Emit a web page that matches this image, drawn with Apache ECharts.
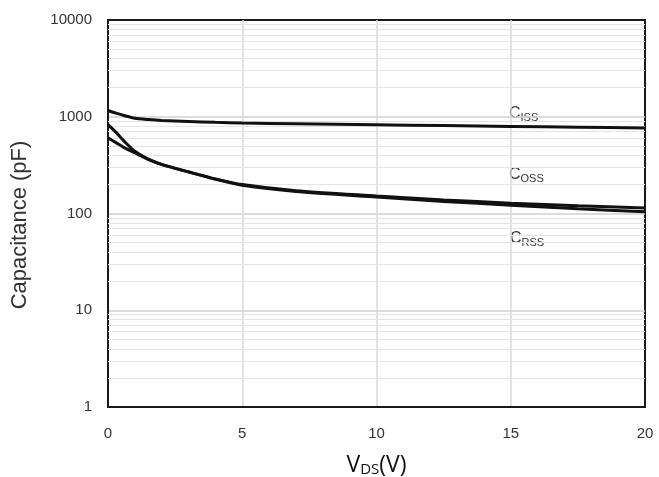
<!DOCTYPE html>
<html>
<head>
<meta charset="utf-8">
<style>
  html, body { margin: 0; padding: 0; background: #fff; }
  #chart { width: 659px; height: 477px; }
</style>
<script src="https://cdn.jsdelivr.net/npm/echarts@6/dist/echarts.min.js"></script>
</head>
<body>
<div id="chart"></div>
<script>
// V_DS sample points (V)
var vds = [0, 0.3, 0.6, 1, 1.5, 2, 3, 4, 5, 7, 10, 12.5, 15, 17.5, 20]
// capacitance curves (pF)
var ciss = [1160, 1090, 1030, 965, 935, 915, 895, 875, 860, 845, 825, 810, 795, 780, 765]
var coss = [830, 690, 560, 440, 365, 322, 270, 228, 199, 172, 152, 138, 128, 120, 114]
var crss = [605, 540, 480, 425, 362, 320, 268, 226, 196, 169, 148, 133, 122, 112, 104]
var xTicks = [0, 5, 10, 15, 20]
var yTicks = [1, 10, 100, 1000, 10000]
// light minor grid lines 2..9 of every decade
var minorGrid = [2, 3, 4, 5, 6, 7, 8, 9, 20, 30, 40, 50, 60, 70, 80, 90,
  200, 300, 400, 500, 600, 700, 800, 900, 2000, 3000, 4000, 5000, 6000, 7000, 8000, 9000]

function pairs(ys) {
  return vds.map(function(v, i) { return [v, ys[i]] })
}

function curve(name, ys, extra) {
  var s = {
    name: name,
    type: 'line',
    smooth: 0.25,
    symbol: 'none',
    silent: true,
    data: pairs(ys),
    lineStyle: { color: '#111', width: 3 },
    z: 5
  }
  return Object.assign(s, extra || {})
}

function subLabel(main, sub, x, y) {
  return {
    type: 'text', left: x, top: y,
    style: {
      text: '{c|' + main + '}{s|' + sub + '}',
      rich: {
        c: { fontFamily: 'Liberation Sans', fontSize: 16, fill: '#333' },
        s: { fontFamily: 'Liberation Sans', fontSize: 11, fill: '#333', padding: [7, 0, 0, 0] }
      }
    }
  }
}

var chart = echarts.init(document.getElementById('chart'))

chart.setOption({
  animation: false,
  backgroundColor: '#fff',
  grid: {
    left: 108,
    right: 14,
    top: 20,
    bottom: 70,
    outerBoundsMode: 'none',
    show: true,
    borderColor: '#1a1a1a',
    borderWidth: 2
  },
  xAxis: {
    type: 'value',
    min: xTicks[0],
    max: xTicks[xTicks.length - 1],
    interval: 5,
    name: '{v|V}{s|DS}{v|(V)}',
    nameLocation: 'middle',
    nameGap: 47,
    nameTextStyle: {
      rich: {
        v: { fontFamily: 'Open Sans', fontSize: 23, color: '#111' },
        s: { fontFamily: 'Open Sans', fontSize: 15, color: '#111', padding: [8, 0, 0, 0] }
      }
    },
    axisLine: { show: true, lineStyle: { color: '#1a1a1a', width: 2 } },
    axisTick: { show: false },
    axisLabel: { fontFamily: 'Liberation Sans', fontSize: 15, color: '#333', margin: 19 },
    splitLine: { show: true, showMinLine: false, showMaxLine: false, lineStyle: { color: '#d9d9d9', width: 1.5 } }
  },
  yAxis: {
    type: 'log',
    logBase: 10,
    min: yTicks[0],
    max: yTicks[yTicks.length - 1],
    axisLine: { show: true, lineStyle: { color: '#1a1a1a', width: 2 } },
    axisTick: { show: false },
    axisLabel: {
      fontFamily: 'Liberation Sans', fontSize: 15, color: '#333', margin: 16,
      formatter: function(v) { return String(v) }
    },
    splitLine: { show: true, showMinLine: false, showMaxLine: false, lineStyle: { color: '#d0d0d0', width: 1.5 } }
  },
  series: [
    curve('Ciss', ciss, {
      markLine: {
        silent: true,
        symbol: 'none',
        label: { show: false },
        lineStyle: { color: '#e4e4e4', width: 1, type: 'solid' },
        data: minorGrid.map(function(v) { return { yAxis: v } }),
        z: 1
      }
    }),
    curve('Coss', coss),
    curve('Crss', crss)
  ],
  graphic: [
    {
      type: 'text', x: 20, y: 225, rotation: Math.PI / 2,
      style: {
        text: 'Capacitance (pF)', fontFamily: 'Liberation Sans', fontSize: 22, fill: '#333',
        align: 'center', verticalAlign: 'middle'
      }
    },
    subLabel('C', 'ISS', 509, 106),
    subLabel('C', 'OSS', 509, 167),
    subLabel('C', 'RSS', 510, 231)
  ]
})
</script>
</body>
</html>
